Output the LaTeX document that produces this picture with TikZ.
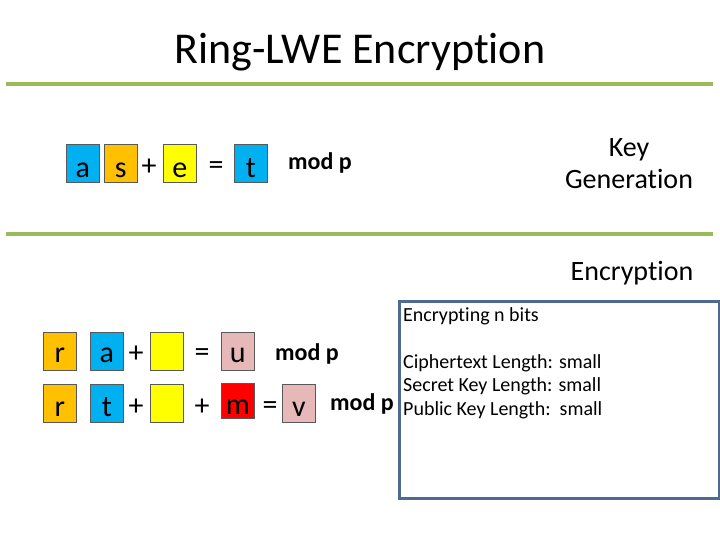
\documentclass[tikz,border=0pt]{standalone}
\usepackage{fontspec}
\setmainfont[Ligatures={NoCommon}]{Carlito}
\definecolor{cblue}{HTML}{00B0F0}
\definecolor{corange}{HTML}{FFC000}
\definecolor{cyellow}{HTML}{FFFF00}
\definecolor{cpink}{HTML}{E6B9B8}
\definecolor{cred}{HTML}{FF0000}
\definecolor{cgreen}{HTML}{9BBB59}
\definecolor{cframe}{HTML}{4F6A8F}
\definecolor{cborder}{HTML}{595959}
\begin{document}
\begin{tikzpicture}[x=1pt,y=-1pt,
  sq/.style={draw=cborder,line width=0.6pt,minimum width=33pt,minimum height=38pt,inner sep=0pt,font=\fontsize{30}{32}\selectfont,anchor=north west},
  rowA/.style={text height=30pt,text depth=2pt},
  rowB/.style={text height=25pt,text depth=2pt},
  rowC/.style={text height=28pt,text depth=2pt},
  op/.style={font=\fontsize{30}{32}\selectfont,inner sep=0pt},
  modp/.style={font=\fontsize{24}{28}\selectfont\bfseries,inner sep=0pt},
  lbl/.style={font=\fontsize{28}{32}\selectfont,inner sep=0pt,align=center},
  info/.style={font=\fontsize{20}{23.5}\selectfont,inner sep=0pt,anchor=north west,align=left},
  rule/.style={cgreen,line width=4pt}]
\useasboundingbox (0,0) rectangle (720,540);
% title
\node[font=\fontsize{44}{52}\selectfont,inner sep=0pt] (title) at (360,52) {Ring-LWE Encryption};
\coordinate (r1l) at (6,84); \coordinate (r1r) at (713,84);
\coordinate (r2l) at (6,234); \coordinate (r2r) at (713,234);
\draw[rule] (r1l) -- (r1r);
\draw[rule] (r2l) -- (r2r);
% key generation row
\node[sq,rowA,fill=cblue] (a1) at (66,144) {a};
\node[sq,rowA,fill=corange] (s1) at (104,144) {s};
\node[op] (p1) at (149,167) {+};
\node[sq,rowA,fill=cyellow] (e1) at (163,144) {e};
\node[op] (q1) at (216,168) {=};
\node[sq,rowA,fill=cblue] (t1) at (234,144) {t};
\node[modp] (m1) at (320,163) {mod p};
\node[lbl] (kg) at (629,164) {Key\\Generation};
\node[lbl] (enc) at (632,273) {Encryption};
% encryption row 1
\node[sq,rowB,fill=corange] (r2) at (43,332) {r};
\node[sq,rowB,fill=cblue] (a2) at (90,332) {a};
\node[op] (p2) at (136,354) {+};
\node[sq,rowB,fill=cyellow] (e2) at (150,332) {};
\node[op] (q2) at (202,355) {=};
\node[sq,rowB,fill=cpink] (u2) at (221,332) {u};
\node[modp] (m2) at (307,354) {mod p};
% encryption row 2
\node[sq,rowC,fill=corange] (r3) at (43,384) {r};
\node[sq,rowC,fill=cblue] (t3) at (90,384) {t};
\node[op] (p3) at (136,407) {+};
\node[sq,rowC,fill=cyellow] (e3) at (150,384) {};
\node[op] (p4) at (202,407) {+};
\node[sq,fill=cred,minimum height=35pt,text height=30pt,text depth=2pt] (mm) at (221,383) {m};
\node[op] (q3) at (270,408) {=};
\node[sq,rowC,fill=cpink] (v3) at (282,384) {v};
\node[modp] (m3) at (362,404) {mod p};
% info box
\node[draw=cframe,line width=3pt,minimum width=320pt,minimum height=197pt,anchor=north west,inner sep=0pt] (box) at (398,300) {};
\node[info] (t1a) at (403,307) {Encrypting n bits};
\node[info] (t2a) at (403,354) {Ciphertext Length: small\\Secret Key Length: small\\Public Key Length:\ \ small};
\end{tikzpicture}
\end{document}
